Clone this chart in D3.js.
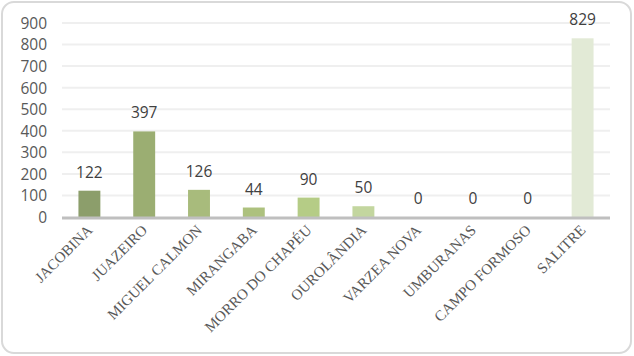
<!DOCTYPE html>
<html>
<head>
<meta charset="utf-8">
<script src="https://cdn.jsdelivr.net/npm/d3@7"></script>
<style>
  html, body { margin: 0; padding: 0; background: #fff; }
</style>
</head>
<body>
<div id="chart"></div>
<script>
const categorias = ["JACOBINA", "JUAZEIRO", "MIGUEL CALMON", "MIRANGABA", "MORRO DO CHAPÉU",
  "OUROLÂNDIA", "VARZEA NOVA", "UMBURANAS", "CAMPO FORMOSO", "SALITRE"];
const valores = [122, 397, 126, 44, 90, 50, 0, 0, 0, 829];
const cores = ["#8c9e6b", "#9bae72", "#a8bb7c", "#adc17e", "#b5cc86",
  "#c3d69f", "#c8daa8", "#cfdfb4", "#d8e5c4", "#e2ead6"];
const ticksY = [0, 100, 200, 300, 400, 500, 600, 700, 800, 900];

const largura = 634, altura = 356;
const margem = { top: 23, right: 24, bottom: 139, left: 62 };

const svg = d3.select("#chart").append("svg")
  .attr("width", largura)
  .attr("height", altura);

// moldura arredondada
svg.append("rect")
  .attr("x", 2).attr("y", 2)
  .attr("width", largura - 5).attr("height", altura - 5)
  .attr("rx", 12)
  .attr("fill", "#fff")
  .attr("stroke", "#d9d9d9")
  .attr("stroke-width", 2);

const x = d3.scaleBand()
  .domain(categorias)
  .range([margem.left, largura - margem.right])
  .paddingInner(0.6)
  .paddingOuter(0.3);

const y = d3.scaleLinear()
  .domain([0, 900])
  .range([altura - margem.bottom, margem.top]);

// grade
svg.append("g")
  .selectAll("line")
  .data(ticksY.slice(1))
  .join("line")
  .attr("x1", margem.left)
  .attr("x2", largura - margem.right)
  .attr("y1", d => y(d))
  .attr("y2", d => y(d))
  .attr("stroke", "#efefef")
  .attr("stroke-width", 2);

// eixo Y
const eixoY = svg.append("g")
  .attr("transform", `translate(${margem.left - 15},0)`)
  .call(d3.axisLeft(y).tickValues(ticksY).tickSize(0).tickPadding(0));
eixoY.select(".domain").remove();
eixoY.selectAll("text")
  .attr("dy", "0.35em")
  .style("font-family", "'Open Sans', 'DejaVu Sans', sans-serif")
  .style("font-size", "15.5px")
  .attr("fill", "#595959");

// barras
svg.append("g")
  .selectAll("rect")
  .data(valores)
  .join("rect")
  .attr("x", (d, i) => x(categorias[i]))
  .attr("y", d => y(d))
  .attr("width", x.bandwidth())
  .attr("height", d => y(0) - y(d))
  .attr("fill", (d, i) => cores[i]);

// eixo X
const eixoX = svg.append("g")
  .attr("transform", `translate(0,${y(0) + 1})`)
  .call(d3.axisBottom(x).tickSize(0).tickPadding(0).tickSizeOuter(0));
eixoX.select(".domain").remove();
eixoX.selectAll("text")
  .attr("text-anchor", "end")
  .attr("dy", 0)
  .attr("transform", "translate(4,13) rotate(-45)")
  .style("font-family", "'Liberation Serif', 'DejaVu Serif', serif")
  .style("font-size", "15px")
  .attr("fill", "#595959");

svg.append("line")
  .attr("x1", margem.left)
  .attr("x2", largura - margem.right)
  .attr("y1", y(0) + 1)
  .attr("y2", y(0) + 1)
  .attr("stroke", "#bfbfbf")
  .attr("stroke-width", 3);

// rótulos de valor
svg.append("g")
  .selectAll("text")
  .data(valores)
  .join("text")
  .attr("x", (d, i) => x(categorias[i]) + x.bandwidth() / 2)
  .attr("y", d => y(d) - 13)
  .attr("text-anchor", "middle")
  .style("font-family", "'Open Sans', 'DejaVu Sans', sans-serif")
  .style("font-size", "15.5px")
  .attr("fill", "#404040")
  .text(d => d);
</script>
</body>
</html>
